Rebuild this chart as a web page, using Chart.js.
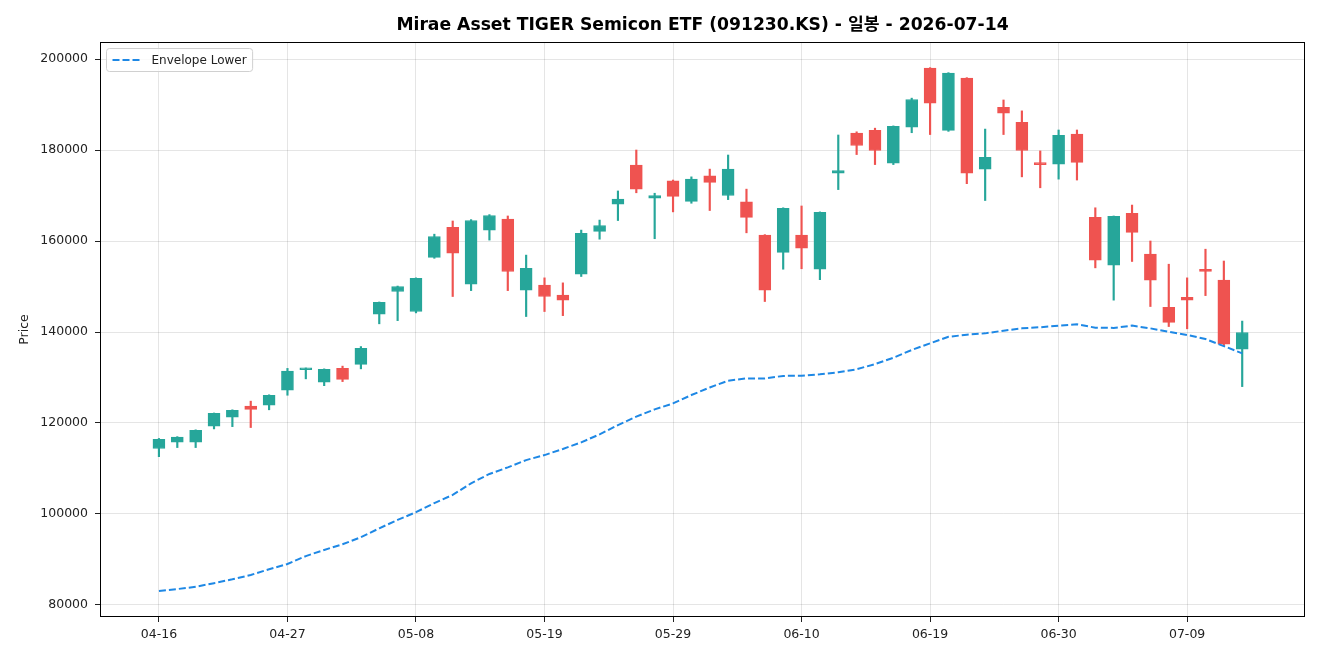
<!DOCTYPE html>
<html>
<head>
<meta charset="utf-8">
<script src="https://cdn.jsdelivr.net/npm/chart.js@4"></script>
<style>
  body { margin: 0; background: #fff; }
  canvas { display: block; }
</style>
</head>
<body>
<canvas id="chart" width="1320" height="660"></canvas>
<script>
var dates = ['04-16','04-17','04-20','04-21','04-22','04-23','04-24','04-27','04-28','04-29','04-30','05-04','05-06','05-07','05-08','05-11','05-12','05-13','05-14','05-15','05-18','05-19','05-20','05-21','05-22','05-26','05-27','05-28','05-29','06-01','06-02','06-04','06-05','06-08','06-09','06-10','06-11','06-12','06-15','06-16','06-17','06-18','06-19','06-22','06-23','06-24','06-25','06-26','06-29','06-30','07-01','07-02','07-03','07-06','07-07','07-08','07-09','07-10','07-13','07-14']
var open = [114400,115800,115800,119300,121300,123700,123900,127200,131700,129000,132000,132900,143900,148900,144500,156400,163000,150500,162400,164800,149200,150300,148100,152700,162100,168100,176700,169400,173200,168700,174300,170000,168600,161300,157500,161300,153800,174900,183700,184300,177100,185000,198000,184300,195800,175800,189400,186100,177100,176900,183500,165200,154700,166100,157100,145400,147600,153800,151400,136200]
var close = [116400,116900,118400,122100,122800,123000,126100,131400,132000,131800,129600,136400,146500,150000,151800,161000,157300,164500,165600,153300,154000,147800,147000,161700,163400,169200,171400,170000,169800,173600,172900,175800,165200,149200,167200,158400,166300,175500,181000,179900,185200,191100,190300,196900,174900,178400,188100,179900,176800,183200,177300,155800,165400,161900,151400,142100,147000,153300,137300,139900]
var high = [116600,117000,118500,122200,122900,124800,126200,132000,132100,131900,132500,136800,146600,150100,151900,161500,164400,164700,165800,165500,156900,151900,150800,162400,164600,171000,180000,170500,173400,174100,175800,178900,171400,161400,167300,167700,166400,183300,184000,184800,185300,191400,198100,197000,195900,184600,191000,188600,179800,184400,184400,167300,165500,167900,160000,154900,151900,158200,155600,142400]
var low = [112600,114600,114600,118700,119200,119000,122900,126100,129700,128200,129100,131900,141800,142500,144200,156200,147800,149100,160200,149100,143400,144500,143600,152200,160400,164500,170600,160500,166400,168300,166700,169100,161800,146700,153800,153900,151500,171300,179000,176800,176800,183800,183400,184100,172600,168900,183400,174100,171700,173600,173400,154100,147000,155500,145600,141200,140700,148000,137000,128000]
var envLower = [83100,83500,84000,84800,85650,86600,87850,89000,90750,92100,93350,94900,96850,98700,100400,102400,104200,106750,108800,110250,111850,112950,114300,115750,117500,119550,121400,123000,124300,126150,127800,129300,129800,129800,130350,130400,130700,131150,131800,132950,134350,136050,137500,138950,139400,139700,140300,140800,141050,141400,141700,140950,140900,141400,140800,140050,139350,138450,136900,135300]
var xTicks = [0,7,14,21,28,35,42,49,56]
var yTicks = [80000,100000,120000,140000,160000,180000,200000]
var titleText = 'Mirae Asset TIGER Semicon ETF (091230.KS) - 일봉 - 2026-07-14'

var UP = '#26a69a'
var DOWN = '#ef5350'
var FONT = "'DejaVu Sans', 'Noto Sans CJK KR', sans-serif"

var candleColors = open.map(function(o, i){ return close[i] >= o ? UP : DOWN })
var bodies = open.map(function(o, i){ return {x: i, y: [o, close[i]]} })
var wicks = low.map(function(l, i){ return {x: i, y: [l, high[i]]} })
var envPoints = envLower.map(function(v, i){ return {x: i, y: v} })

// title centred over the plot, not over the whole canvas
var axesTitle = {
  id: 'axesTitle',
  afterDraw: function(chart){
    var ctx = chart.ctx, a = chart.chartArea
    ctx.save()
    ctx.font = 'bold 17.2px ' + FONT
    ctx.fillStyle = '#000'
    ctx.textAlign = 'center'
    ctx.textBaseline = 'middle'
    ctx.fillText(titleText, (a.left + a.right) / 2, 26)
    ctx.restore()
  }
}

// box with the dataset label, inside the plot like matplotlib does it
var legendBox = {
  id: 'legendBox',
  afterDraw: function(chart){
    var ctx = chart.ctx, area = chart.chartArea
    var ds = chart.data.datasets[0]
    ctx.save()
    ctx.font = '12px ' + FONT
    var tw = ctx.measureText(ds.label).width
    var x = area.left + 6.5, y = area.top + 6.5, w = 45 + tw + 6, h = 23
    ctx.beginPath()
    ctx.roundRect(x, y, w, h, 3)
    ctx.fillStyle = 'rgba(255,255,255,0.8)'
    ctx.fill()
    ctx.strokeStyle = '#d0d0d0'
    ctx.lineWidth = 1
    ctx.stroke()
    ctx.beginPath()
    ctx.setLineDash([7, 3])
    ctx.strokeStyle = ds.borderColor
    ctx.lineWidth = 2
    ctx.moveTo(x + 6, y + h / 2)
    ctx.lineTo(x + 34, y + h / 2)
    ctx.stroke()
    ctx.setLineDash([])
    ctx.fillStyle = '#222'
    ctx.textBaseline = 'middle'
    ctx.fillText(ds.label, x + 45, y + h / 2 + 0.5)
    ctx.restore()
  }
}

var frame = {
  id: 'frame',
  afterDatasetsDraw: function(chart){
    var ctx = chart.ctx, a = chart.chartArea
    ctx.save()
    ctx.strokeStyle = '#000'
    ctx.lineWidth = 1
    ctx.strokeRect(a.left + 0.5, a.top + 0.5, a.right - a.left - 1, a.bottom - a.top - 1)
    ctx.restore()
  }
}

var ctx = document.getElementById('chart')
var chart = new Chart(ctx, {
  type: 'bar',
  data: {
    datasets: [{
      type: 'line',
      label: 'Envelope Lower',
      data: envPoints,
      borderColor: '#1e88e5',
      borderWidth: 2,
      borderDash: [7, 3],
      pointRadius: 0,
      tension: 0,
      order: 0
    }, {
      label: 'body',
      data: bodies,
      backgroundColor: candleColors,
      borderColor: candleColors,
      borderWidth: 1,
      borderSkipped: false,
      barThickness: 12,
      minBarLength: 2,
      grouped: false,
      order: 1
    }, {
      label: 'wick',
      data: wicks,
      backgroundColor: candleColors,
      borderWidth: 0,
      barThickness: 1.5,
      grouped: false,
      order: 2
    }]
  },
  options: {
    responsive: false,
    devicePixelRatio: 1,
    animation: false,
    layout: { padding: { left: 0, right: 15, top: 42, bottom: 0 } },
    plugins: {
      legend: { display: false },
      tooltip: { enabled: false },
      title: { display: false }
    },
    scales: {
      x: {
        type: 'linear',
        offset: false,
        min: -3.21,
        max: 62.42,
        afterBuildTicks: function(s){ s.ticks = xTicks.map(function(v){ return {value: v} }) },
        afterFit: function(s){ s.height = 43 },
        ticks: {
          color: '#222',
          font: { family: FONT, size: 12.5 },
          padding: 5,
          maxRotation: 0,
          callback: function(v){ return dates[v] }
        },
        grid: { offset: false, color: 'rgba(0,0,0,0.1)', tickColor: '#222', tickLength: 5 },
        border: { display: false }
      },
      y: {
        min: 77360,
        max: 203740,
        afterBuildTicks: function(s){ s.ticks = yTicks.map(function(v){ return {value: v} }) },
        afterFit: function(s){ s.width = 100 },
        ticks: {
          color: '#222',
          font: { family: FONT, size: 12.5 },
          padding: 7,
          callback: function(v){ return String(v) }
        },
        grid: { color: 'rgba(0,0,0,0.1)', tickColor: '#222', tickLength: 5 },
        border: { display: false },
        title: {
          display: true,
          text: 'Price',
          color: '#222',
          font: { family: FONT, size: 12.5 },
          padding: { top: 17, bottom: 0 }
        }
      }
    }
  },
  plugins: [axesTitle, legendBox, frame]
})
</script>
</body>
</html>
